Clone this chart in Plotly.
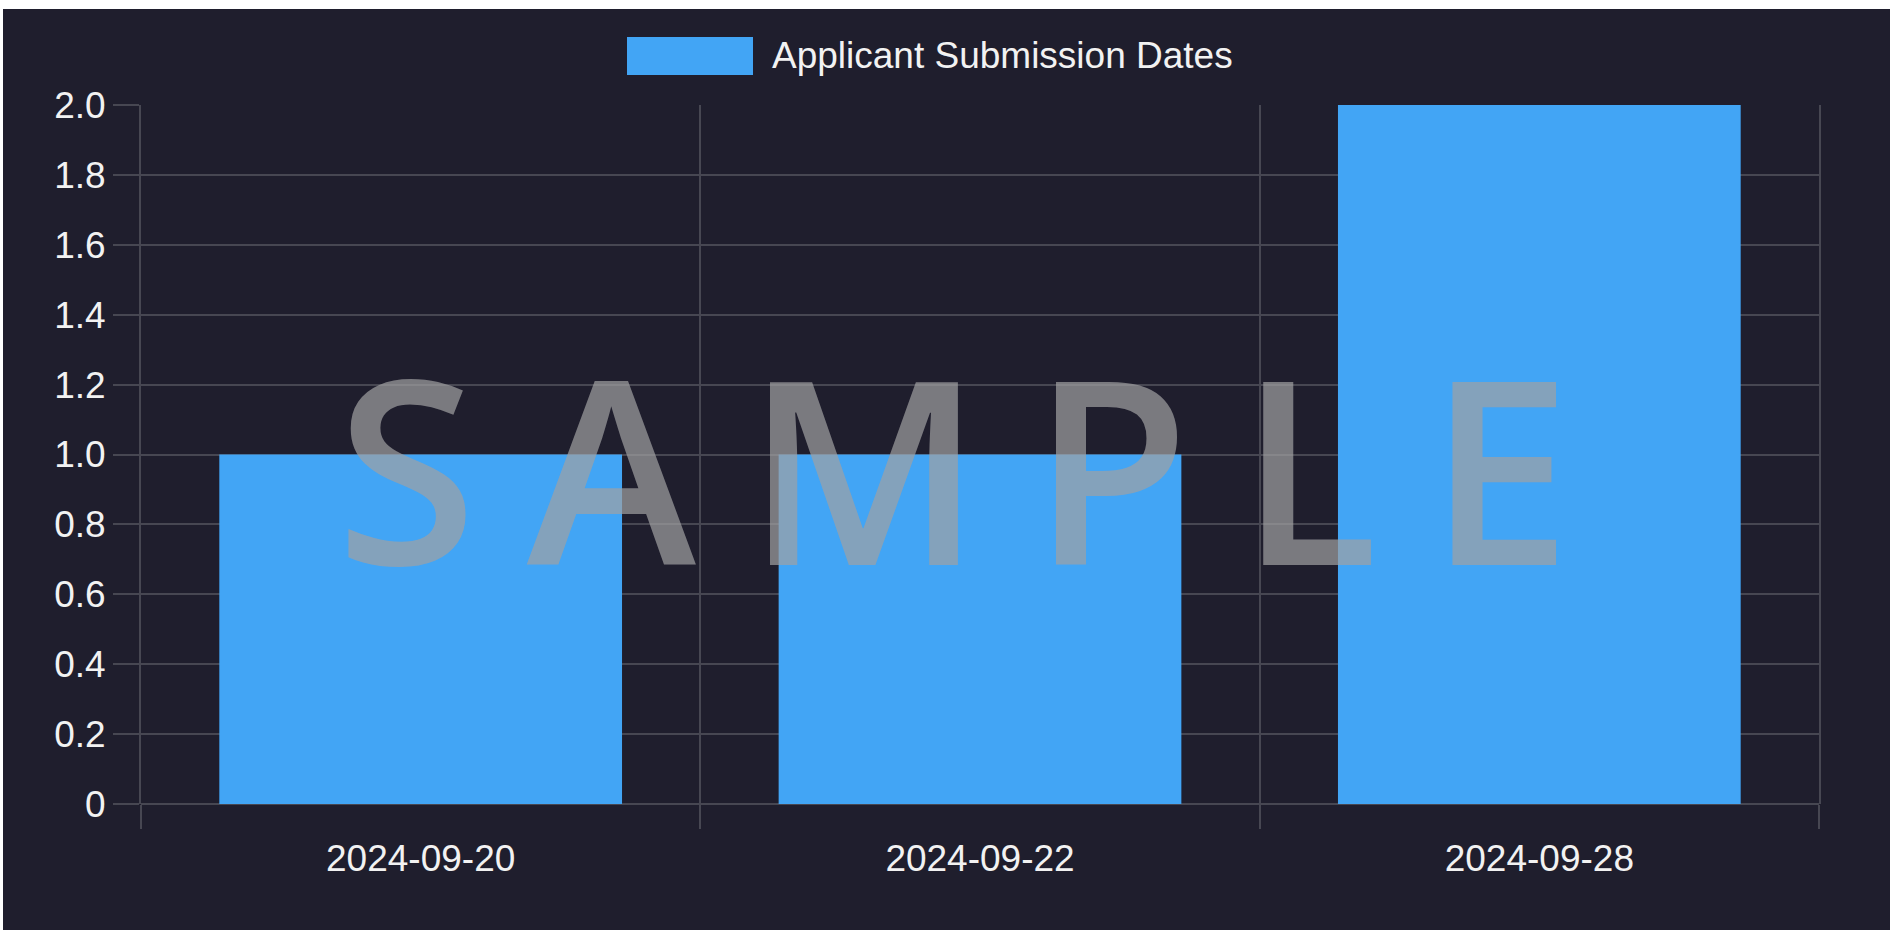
import plotly.graph_objects as go

# ---- data ----
categories = ["2024-09-20", "2024-09-22", "2024-09-28"]
counts = [1, 1, 2]
series_name = "Applicant Submission Dates"
y_tickvals = [0, 0.2, 0.4, 0.6, 0.8, 1.0, 1.2, 1.4, 1.6, 1.8, 2.0]
y_ticktext = ["0", "0.2", "0.4", "0.6", "0.8", "1.0", "1.2", "1.4", "1.6", "1.8", "2.0"]
watermark = "SAMPLE"

# ---- style ----
BG = "#1f1e2d"
BAR = "#42a5f5"
GRID = "#474752"
TXT = "#f2f2f2"
FONT = "Liberation Sans, Arial, sans-serif"

W, H = 1901, 932
L, R, T, B = 141, 82, 105, 128
pw, ph = W - L - R, H - T - B


def px_x(p):
    return (p - L) / pw


def px_y(p):
    return (H - B - p) / ph


fig = go.Figure()
fig.add_trace(go.Bar(
    x=categories, y=counts, name=series_name,
    marker=dict(color=BAR, line=dict(width=0)),
    showlegend=False,
))

shapes = [
    # dark card background (white frame around it)
    dict(type="rect", xref="paper", yref="paper", layer="below",
         x0=px_x(3), x1=px_x(1890), y0=px_y(930), y1=px_y(9),
         fillcolor=BG, line=dict(width=0)),
    # legend swatch
    dict(type="rect", xref="paper", yref="paper",
         x0=px_x(627), x1=px_x(753), y0=px_y(75), y1=px_y(37),
         fillcolor=BAR, line=dict(width=0)),
]

annotations = [
    dict(xref="paper", yref="paper", x=px_x(770), y=px_y(56),
         xanchor="left", yanchor="middle", showarrow=False,
         text=series_name, font=dict(family=FONT, size=37, color=TXT)),
    dict(xref="paper", yref="paper", x=px_x(978), y=px_y(465),
         xanchor="center", yanchor="middle", showarrow=False,
         text='<span style="letter-spacing:50px">' + watermark + '</span>',
         font=dict(family="Open Sans, Liberation Sans, sans-serif", size=256,
                   weight=600, color="rgba(161,161,163,0.7)")),
]

fig.update_layout(
    width=W, height=H,
    margin=dict(l=L, r=R, t=T, b=B, pad=0),
    paper_bgcolor="white",
    plot_bgcolor=BG,
    bargap=0.28,
    shapes=shapes,
    annotations=annotations,
    font=dict(family=FONT, size=37, color=TXT),
    xaxis=dict(
        type="category", tickson="boundaries",
        showgrid=True, gridcolor=GRID, gridwidth=2,
        ticks="outside", ticklen=24, tickwidth=2, tickcolor=GRID,
        showline=False, zeroline=False,
        ticklabelstandoff=29,
        tickfont=dict(family=FONT, size=37, color=TXT),
    ),
    yaxis=dict(
        range=[0, 2], tickvals=y_tickvals, ticktext=y_ticktext,
        showgrid=True, gridcolor=GRID, gridwidth=2,
        zeroline=True, zerolinecolor=GRID, zerolinewidth=2,
        ticks="outside", ticklen=26, tickwidth=2, tickcolor=GRID,
        showline=True, linecolor=GRID, linewidth=2, mirror=True,
        tickfont=dict(family=FONT, size=37, color=TXT),
    ),
)

fig.write_html("out.html")
